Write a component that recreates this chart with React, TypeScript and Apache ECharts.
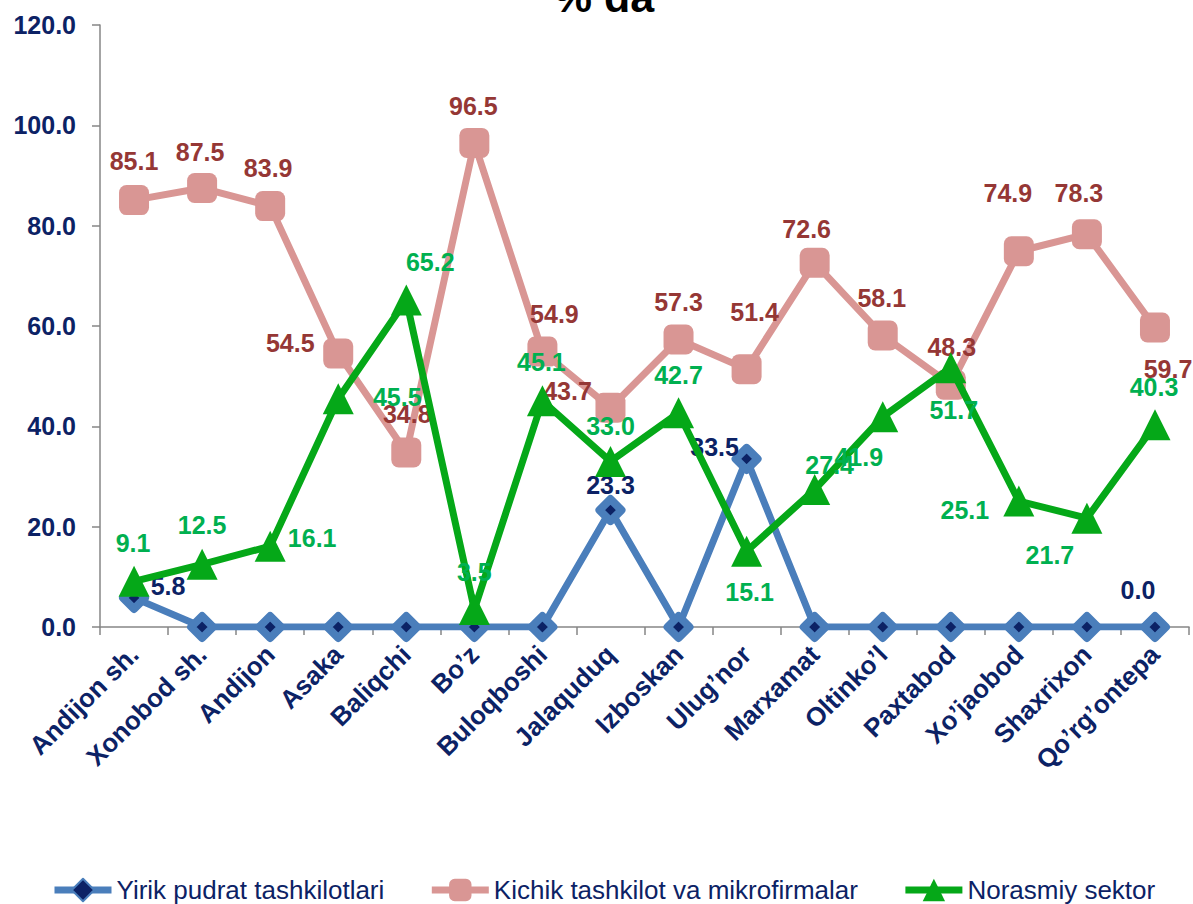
import React, { useEffect, useRef } from "react";
import * as echarts from "echarts";

const categories = [
  "Andijon sh.", "Xonobod sh.", "Andijon", "Asaka", "Baliqchi", "Bo’z", "Buloqboshi", "Jalaquduq",
  "Izboskan", "Ulug’nor", "Marxamat", "Oltinko’l", "Paxtabod", "Xo’jaobod", "Shaxrixon", "Qo’rg’ontepa",
];
const seriesNames = ["Yirik pudrat tashkilotlari", "Kichik tashkilot va mikrofirmalar", "Norasmiy sektor"];
const yirik = [5.8, 0, 0, 0, 0, 0, 0, 23.3, 0, 33.5, 0, 0, 0, 0, 0, 0];
const kichik = [85.1, 87.5, 83.9, 54.5, 34.8, 96.5, 54.9, 43.7, 57.3, 51.4, 72.6, 58.1, 48.3, 74.9, 78.3, 59.7];
const norasmiy = [9.1, 12.5, 16.1, 45.5, 65.2, 3.5, 45.1, 33.0, 42.7, 15.1, 27.4, 41.9, 51.7, 25.1, 21.7, 40.3];
const titleText = "% da";

// label placement (style), null = hidden
const yirikLabelOffsets: (number[] | null)[] = [
  [34, -12], null, null, null, null, null, null, [0, -25], null, [-32, -12], null, null, null, null, null, [-17, -37],
];
const kichikLabelOffsets: number[][] = [
  [0, -39], [-2, -36], [-2, -38], [-48, -11], [1, -38], [-1, -37], [12, -38], [-43, -17],
  [0, -38], [8, -57], [-8, -34], [-1, -38], [1, -38], [-11, -58], [-8, -41], [13, 41],
];
const norasmiyLabelOffsets: number[][] = [
  [-1, -38], [0, -39], [42, -8], [59, -2], [24, -38], [0, -37], [-1, -39], [0, -35],
  [0, -38], [3, 41], [15, -25], [-24, 40], [3, 42], [-54, 9], [-37, 37], [-1, -38],
];

const FONT = 'Arial, "Liberation Sans", sans-serif';
const NAVY = "#0C2265";

function buildData(values: number[], offsets: (number[] | null)[]) {
  return values.map((v, i) => {
    const off = offsets[i];
    return off ? { value: v, label: { show: true, offset: off } } : { value: v, label: { show: false } };
  });
}

export default function App() {
  const ref = useRef<HTMLDivElement>(null);
  useEffect(() => {
    document.body.style.margin = "0";
    if (!ref.current) return;
    const chart = echarts.init(ref.current, null, { renderer: "svg" });
    const labelBase = {
      show: true,
      position: "inside",
      fontFamily: FONT,
      fontWeight: "bold",
      fontSize: 25,
      formatter: (p: any) => Number(p.value).toFixed(1),
    };
    chart.setOption({
      animation: false,
      backgroundColor: "#ffffff",
      graphic: [
        {
          type: "text",
          x: 604,
          y: -3,
          style: {
            text: titleText,
            align: "center",
            verticalAlign: "middle",
            fontFamily: FONT,
            fontWeight: "bold",
            fontSize: 43,
            fill: "#000000",
          },
        },
      ],
      grid: { left: 100, right: 4, top: 25, bottom: 277, containLabel: false },
      legend: {
        left: 46,
        top: 872,
        itemWidth: 57,
        itemHeight: 28,
        itemGap: 44,
        data: seriesNames,
        lineStyle: { width: 7 },
        textStyle: { fontFamily: FONT, fontSize: 26, color: NAVY },
      },
      xAxis: {
        type: "category",
        data: categories,
        boundaryGap: true,
        axisLine: { show: true, lineStyle: { color: "#868686", width: 1.5 } },
        axisTick: { show: true, length: 8, alignWithLabel: false, lineStyle: { color: "#868686", width: 1.5 } },
        axisLabel: {
          interval: 0,
          rotate: 45,
          margin: 23,
          fontFamily: FONT,
          fontWeight: "bold",
          fontSize: 26,
          color: NAVY,
        },
        splitLine: { show: false },
      },
      yAxis: {
        type: "value",
        min: 0,
        max: 120,
        interval: 20,
        axisLine: { show: true, lineStyle: { color: "#868686", width: 1.5 } },
        axisTick: { show: true, length: 8, inside: false, lineStyle: { color: "#868686", width: 1.5 } },
        axisLabel: {
          margin: 24,
          fontFamily: FONT,
          fontWeight: "bold",
          fontSize: 25,
          color: NAVY,
          formatter: (v: number) => v.toFixed(1),
        },
        splitLine: { show: false },
      },
      series: [
        {
          name: seriesNames[0],
          type: "line",
          data: buildData(yirik, yirikLabelOffsets),
          symbol: "diamond",
          symbolSize: 22,
          lineStyle: { color: "#4A7EBB", width: 7 },
          itemStyle: { color: NAVY, borderColor: "#4A7EBB", borderWidth: 8, borderJoin: "round" },
          label: { ...labelBase, color: NAVY },
          z: 2,
        },
        {
          name: seriesNames[1],
          type: "line",
          data: buildData(kichik, kichikLabelOffsets),
          symbol: "roundRect",
          symbolSize: 30,
          lineStyle: { color: "#D99694", width: 7 },
          itemStyle: { color: "#D99694" },
          label: { ...labelBase, color: "#953735" },
          z: 3,
        },
        {
          name: seriesNames[2],
          type: "line",
          data: buildData(norasmiy, norasmiyLabelOffsets),
          symbol: "triangle",
          symbolSize: 31,
          lineStyle: { color: "#05A818", width: 7 },
          itemStyle: { color: "#05A818" },
          label: { ...labelBase, color: "#00B050" },
          z: 4,
        },
      ],
    });
    return () => chart.dispose();
  }, []);
  return <div ref={ref} style={{ width: 1193, height: 904 }} />;
}
